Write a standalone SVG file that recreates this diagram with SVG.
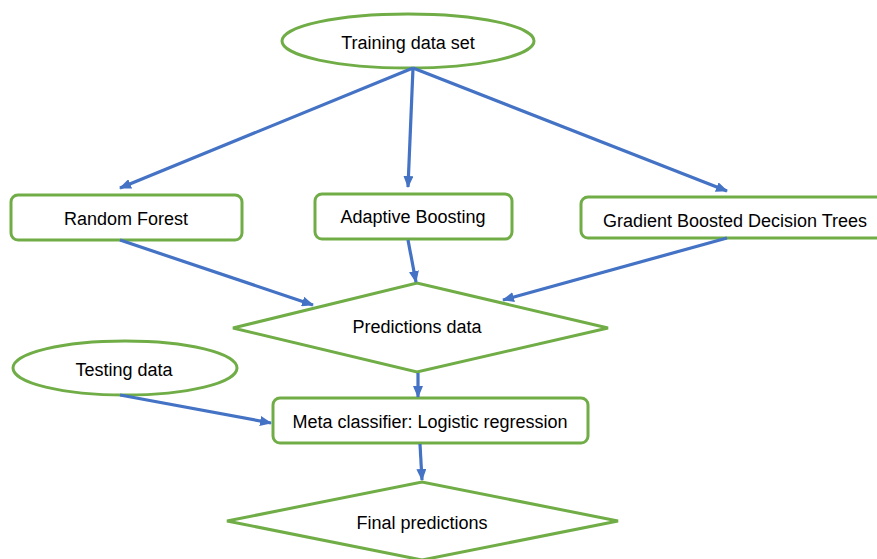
<svg xmlns="http://www.w3.org/2000/svg" width="877" height="559" viewBox="0 0 877 559">
<style>
.n{fill:#fff;stroke:#70AD47;stroke-width:3}
.t{font-family:"Liberation Sans",Arial,sans-serif;font-size:18px;fill:#000;text-anchor:middle}
.c{stroke:#4472C4;stroke-width:3.2;fill:none;marker-end:url(#ah)}
</style>
<defs>
<marker id="ah" markerWidth="12" markerHeight="10" refX="11" refY="5" orient="auto" markerUnits="userSpaceOnUse">
<path d="M0,0 L12,5 L0,10 Z" fill="#4472C4"/>
</marker>
</defs>
<rect width="877" height="559" fill="#fff"/>
<g id="training">
<ellipse class="n" cx="408" cy="41" rx="126" ry="27"/>
<text class="t" x="408" y="49">Training data set</text>
</g>
<g id="random-forest">
<rect class="n" x="11" y="195" width="231" height="45" rx="7"/>
<text class="t" x="126" y="225">Random Forest</text>
</g>
<g id="adaptive-boosting">
<rect class="n" x="315" y="194" width="197" height="45" rx="7"/>
<text class="t" x="413" y="223">Adaptive Boosting</text>
</g>
<g id="gbdt">
<rect class="n" x="581" y="197" width="310" height="41" rx="7"/>
<text class="t" x="735" y="227">Gradient Boosted Decision Trees</text>
</g>
<g id="predictions">
<polygon class="n" points="233,328 417,283 608,328 417,372"/>
<text class="t" x="417" y="333">Predictions data</text>
</g>
<g id="testing">
<ellipse class="n" cx="125" cy="368" rx="112" ry="27"/>
<text class="t" x="124" y="376">Testing data</text>
</g>
<g id="meta">
<rect class="n" x="273" y="398" width="315" height="45" rx="7"/>
<text class="t" x="430" y="428">Meta classifier: Logistic regression</text>
</g>
<g id="final">
<polygon class="n" points="227,521 422,482 618,521 422,560"/>
<text class="t" x="422" y="529">Final predictions</text>
</g>
<g id="connectors">
<line class="c" x1="413" y1="68" x2="120" y2="188"/>
<line class="c" x1="413" y1="68" x2="408" y2="187"/>
<line class="c" x1="413" y1="68" x2="727" y2="191"/>
<line class="c" x1="120" y1="240" x2="313" y2="305"/>
<line class="c" x1="408" y1="240" x2="416" y2="282"/>
<line class="c" x1="727" y1="238" x2="503" y2="300"/>
<line class="c" x1="418" y1="373" x2="418" y2="397"/>
<line class="c" x1="120" y1="395" x2="271" y2="423"/>
<line class="c" x1="420" y1="444" x2="422" y2="480"/>
</g>
</svg>
